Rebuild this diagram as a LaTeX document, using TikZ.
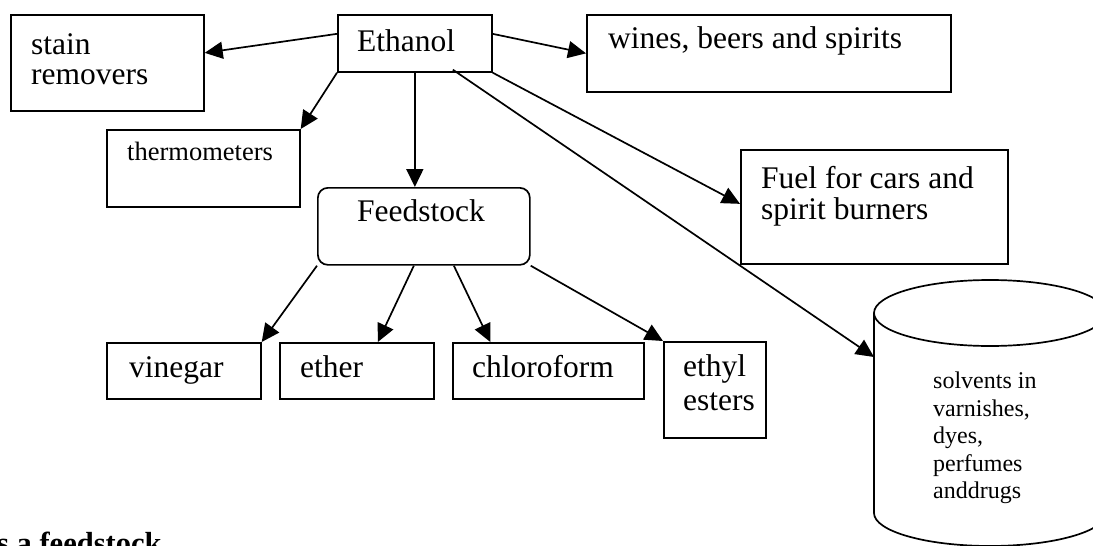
\documentclass[tikz,border=0pt]{standalone}
\usepackage{fontspec}
\setmainfont{Liberation Serif}
\usetikzlibrary{arrows.meta}
\begin{document}
\begin{tikzpicture}[x=1pt,y=-1pt,
  box/.style={draw, line width=1.7pt, rectangle, inner sep=0pt, anchor=north west},
  rbox/.style={box, rounded corners=10pt},
  big/.style={font=\fontsize{31.5}{31.5}\selectfont, inner sep=0pt, anchor=base west},
  mid/.style={font=\fontsize{26.5}{26.5}\selectfont, inner sep=0pt, anchor=base west},
  small/.style={font=\fontsize{24}{24}\selectfont, inner sep=0pt, anchor=base west},
  bold/.style={font=\fontsize{30.5}{30.5}\selectfont\bfseries, inner sep=0pt, anchor=base west},
  conn/.style={line width=1.7pt, -{Triangle[length=18pt,width=17pt]}},
  cyl/.style={line width=1.7pt},
]
\useasboundingbox (0,0) rectangle (1093,546);
% boxes
\node[box, minimum width=193pt, minimum height=96pt] (stain) at (10,14) {};
\node[box, minimum width=154pt, minimum height=57pt] (ethanol) at (337,14) {};
\node[box, minimum width=364pt, minimum height=77pt] (wines) at (586,14) {};
\node[box, minimum width=193pt, minimum height=77pt] (thermo) at (106,129) {};
\node[rbox, minimum width=212pt, minimum height=77pt] (feed) at (317,187) {};
\node[box, minimum width=267pt, minimum height=114pt] (fuel) at (740,149) {};
\node[box, minimum width=154pt, minimum height=56pt] (vinegar) at (106,342) {};
\node[box, minimum width=154pt, minimum height=56pt] (ether) at (279,342) {};
\node[box, minimum width=191pt, minimum height=56pt] (chloro) at (452,342) {};
\node[box, minimum width=102pt, minimum height=96pt] (ethyl) at (663,341) {};
% cylinder
\draw[cyl] (990,313) ellipse [x radius=116, y radius=33];
\draw[cyl] (874,313) -- (874,513) arc [start angle=180, end angle=0, x radius=116, y radius=33] -- (1106,313);
\coordinate (cyltip) at (874,357);
% texts
\node[big] (t-stain1) at (31,54) {stain};
\node[big] (t-stain2) at (31,84) {removers};
\node[big] (t-ethanol) at (357,51) {Ethanol};
\node[big] (t-wines) at (608,48) {wines, beers and spirits};
\node[mid] (t-thermo) at (127,160) {thermometers};
\node[big] (t-feed) at (357,221) {Feedstock};
\node[big] (t-fuel1) at (761,188) {Fuel for cars and};
\node[big] (t-fuel2) at (761,219) {spirit burners};
\node[big] (t-vinegar) at (129,377) {vinegar};
\node[big] (t-ether) at (300,377) {ether};
\node[big] (t-chloro) at (472,377) {chloroform};
\node[big] (t-ethyl1) at (683,376) {ethyl};
\node[big] (t-ethyl2) at (683,410) {esters};
\node[small] (t-sol1) at (933,388) {solvents in};
\node[small] (t-sol2) at (933,416) {varnishes,};
\node[small] (t-sol3) at (933,443) {dyes,};
\node[small] (t-sol4) at (933,471) {perfumes};
\node[small] (t-sol5) at (933,498) {anddrugs};
\node[bold] (t-caption) at (-3,553) {s a feedstock};
% connectors
\coordinate (solvstart) at ([xshift=38pt,yshift=3pt]ethanol.south);
\draw[conn] ([yshift=9.5pt]ethanol.west) -- ([yshift=10pt]stain.east);
\draw[conn] ([yshift=9.5pt]ethanol.east) -- (wines.west);
\draw[conn] (ethanol.south west) -- (thermo.north east);
\draw[conn] (ethanol.south) -- (ethanol.south |- feed.north);
\draw[conn] (ethanol.south east) -- ([yshift=3pt]fuel.west);
\draw[conn] (solvstart) -- (cyltip);
\draw[conn] (feed.south west) -- (vinegar.north east);
\draw[conn] ([xshift=-10pt]feed.south) -- ([xshift=21pt]ether.north);
\draw[conn] ([xshift=30pt]feed.south) -- ([xshift=-58pt]chloro.north);
\draw[conn] (feed.south east) -- (ethyl.north west);
\end{tikzpicture}
\end{document}
